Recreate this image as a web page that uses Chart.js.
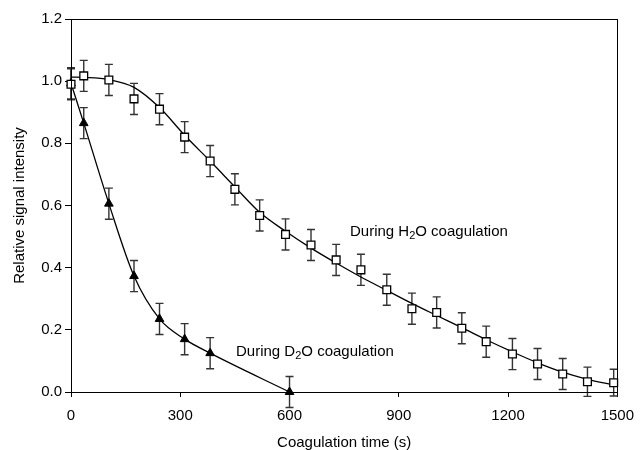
<!DOCTYPE html>
<html>
<head>
<meta charset="utf-8">
<script src="https://cdn.jsdelivr.net/npm/chart.js@4"></script>
<style>
  html, body { margin: 0; padding: 0; background: #fff; }
</style>
</head>
<body>
<canvas id="chart" width="644" height="450"></canvas>
<script>
// Coagulation time (s) and relative signal, H2O bath
const h2oTime = [0, 35, 104, 173, 243, 312, 382, 450, 518, 589, 659, 728, 796, 867, 936, 1004, 1073, 1140, 1212, 1281, 1350, 1418, 1490];
const h2oSignal = [0.990, 1.017, 1.004, 0.943, 0.910, 0.820, 0.743, 0.652, 0.568, 0.507, 0.473, 0.425, 0.393, 0.329, 0.268, 0.256, 0.205, 0.162, 0.122, 0.090, 0.058, 0.033, 0.030];
const h2oError = [0.05, 0.05, 0.05, 0.05, 0.05, 0.05, 0.05, 0.05, 0.05, 0.05, 0.05, 0.05, 0.05, 0.05, 0.05, 0.05, 0.05, 0.05, 0.05, 0.05, 0.05, 0.047, 0.043];

// fitted curve for the H2O series
const h2oFit = [1.013, 1.012, 1.005, 0.980, 0.915, 0.826, 0.743, 0.660, 0.578, 0.517, 0.463, 0.415, 0.370, 0.327, 0.285, 0.246, 0.207, 0.168, 0.129, 0.094, 0.064, 0.041, 0.023];

// D2O bath
const d2oTime = [0, 35, 104, 173, 243, 312, 382, 600];
const d2oSignal = [0.993, 0.865, 0.606, 0.373, 0.235, 0.170, 0.125, 0.0];
const d2oError = [0.05, 0.05, 0.05, 0.05, 0.05, 0.05, 0.05, 0.05];

const xTicks = [0, 300, 600, 900, 1200, 1500];
const yTicks = [0, 0.2, 0.4, 0.6, 0.8, 1.0, 1.2];

const FONT = 'Arial, "Liberation Sans", sans-serif';

function pts(xs, ys) {
    return xs.map((x, i) => ({ x: x, y: ys[i] }));
}

// vertical error bars with caps, drawn under the markers
const errorBars = {
    id: 'errorBars',
    beforeDatasetsDraw(chart) {
        const ctx = chart.ctx;
        const xs = chart.scales.x, ys = chart.scales.y;
        const sets = [[h2oTime, h2oSignal, h2oError], [d2oTime, d2oSignal, d2oError]];
        ctx.save();
        ctx.strokeStyle = '#333';
        ctx.lineWidth = 1.4;
        sets.forEach(([t, v, e]) => {
            t.forEach((tt, i) => {
                const px = xs.getPixelForValue(tt);
                const top = ys.getPixelForValue(v[i] + e[i]);
                const bot = ys.getPixelForValue(v[i] - e[i]);
                ctx.beginPath();
                ctx.moveTo(px, top); ctx.lineTo(px, bot);
                ctx.moveTo(px - 4, top); ctx.lineTo(px + 4, top);
                ctx.moveTo(px - 4, bot); ctx.lineTo(px + 4, bot);
                ctx.stroke();
            });
        });
        ctx.restore();
    }
};

// box around the plot and the two series captions
const frameAndText = {
    id: 'frameAndText',
    afterDraw(chart) {
        const ctx = chart.ctx;
        const a = chart.chartArea;
        ctx.save();
        ctx.strokeStyle = '#000';
        ctx.lineWidth = 1;
        ctx.strokeRect(Math.round(a.left) + 0.5, Math.round(a.top) + 0.5,
                       Math.round(a.right - a.left), Math.round(a.bottom - a.top));

        const xs = chart.scales.x, ys = chart.scales.y;
        const caption = (t, v, sym) => {
            let x = xs.getPixelForValue(t);
            const y = ys.getPixelForValue(v);
            ctx.fillStyle = '#000';
            ctx.textBaseline = 'middle';
            ctx.textAlign = 'left';
            ctx.font = '15px ' + FONT;
            const head = 'During ' + sym;
            ctx.fillText(head, x, y);
            x += ctx.measureText(head).width;
            ctx.font = '11px ' + FONT;
            ctx.fillText('2', x, y + 4);
            x += ctx.measureText('2').width;
            ctx.font = '15px ' + FONT;
            ctx.fillText('O coagulation', x, y);
        };
        caption(766, 0.516, 'H');
        caption(453, 0.129, 'D');
        ctx.restore();
    }
};

new Chart(document.getElementById('chart'), {
    type: 'scatter',
    data: {
        datasets: [
            {
                data: pts(h2oTime, h2oSignal),
                pointStyle: 'rect',
                pointRadius: 5.5,
                backgroundColor: '#fff',
                borderColor: '#000',
                borderWidth: 1.3,
                showLine: false,
                clip: false
            },
            {
                data: pts(d2oTime, d2oSignal),
                pointStyle: 'triangle',
                pointRadius: 5,
                backgroundColor: '#000',
                borderColor: '#000',
                pointBorderWidth: 1,
                borderWidth: 1.3,
                showLine: true,
                cubicInterpolationMode: 'monotone',
                clip: false
            },
            {
                data: pts(h2oTime, h2oFit),
                pointRadius: 0,
                borderColor: '#000',
                borderWidth: 1.3,
                showLine: true,
                cubicInterpolationMode: 'monotone'
            }
        ]
    },
    options: {
        responsive: false,
        animation: false,
        devicePixelRatio: 1,
        layout: { padding: { top: 19, right: 19, left: 0, bottom: 0 } },
        plugins: { legend: { display: false }, tooltip: { enabled: false } },
        scales: {
            x: {
                type: 'linear',
                min: 0, max: 1500,
                afterBuildTicks: s => { s.ticks = xTicks.map(v => ({ value: v })); },
                afterFit: s => { s.height = 58; },
                ticks: { color: '#000', font: { family: FONT, size: 15 }, padding: 10, maxRotation: 0,
                         callback: v => String(v) },
                grid: { drawOnChartArea: false, tickLength: 5, color: '#000' },
                border: { display: true, color: '#000', width: 1 },
                title: { display: true, text: 'Coagulation time (s)', color: '#000',
                         font: { family: FONT, size: 15 }, padding: { top: 0, bottom: -2 } }
            },
            y: {
                type: 'linear',
                min: 0, max: 1.2,
                afterBuildTicks: s => { s.ticks = yTicks.map(v => ({ value: v })); },
                afterFit: s => { s.width = 71; },
                ticks: { color: '#000', font: { family: FONT, size: 15 }, padding: 3,
                         callback: v => v.toFixed(1) },
                grid: { drawOnChartArea: false, tickLength: 6, color: '#000' },
                border: { display: true, color: '#000', width: 1 },
                title: { display: true, text: 'Relative signal intensity', color: '#000',
                         font: { family: FONT, size: 15 }, padding: { top: 11, bottom: 0 } }
            }
        }
    },
    plugins: [errorBars, frameAndText]
});
</script>
</body>
</html>
